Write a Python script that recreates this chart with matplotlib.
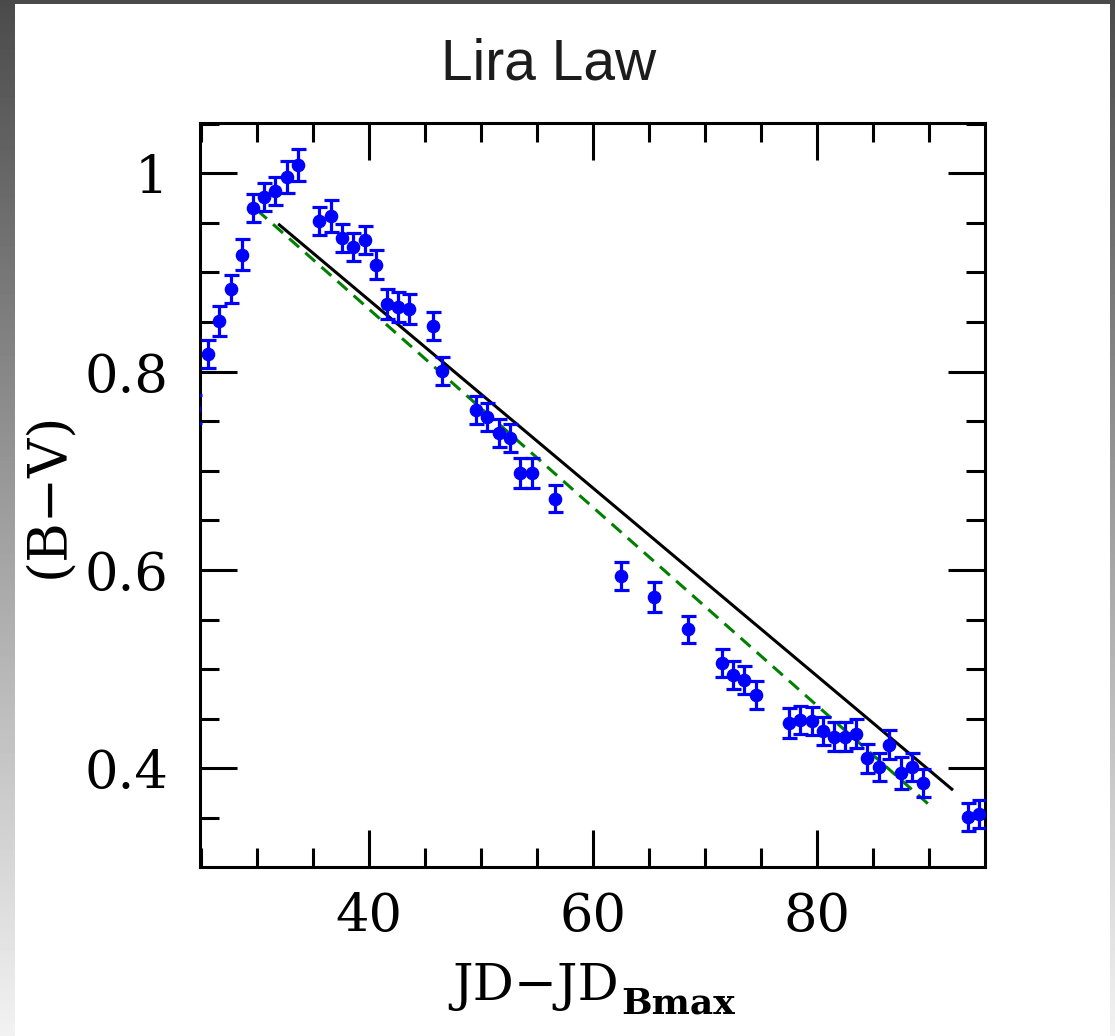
import numpy as np
import matplotlib
matplotlib.use("Agg")
import matplotlib.pyplot as plt
from matplotlib.ticker import MultipleLocator, FuncFormatter

plt.rcParams["font.family"] = "DejaVu Serif"
plt.rcParams["lines.scale_dashes"] = False

# ---------------- Data ----------------
days = [24.38, 25.67, 26.65, 27.66, 28.64, 29.63, 30.63, 31.61, 32.66, 33.64,
        35.51, 36.64, 37.62, 38.60, 39.64, 40.62, 41.58, 42.56, 43.54, 45.68,
        46.54, 49.55, 50.55, 51.57, 52.58, 53.47, 54.57, 56.57, 62.45, 65.40,
        68.48, 71.46, 72.50, 73.45, 74.50, 77.47, 78.45, 79.49, 80.53, 81.48,
        82.46, 83.44, 84.45, 85.50, 86.41, 87.46, 88.44, 89.39, 93.46, 94.44]
bv = [0.762, 0.818, 0.851, 0.883, 0.918, 0.965, 0.976, 0.982, 0.996, 1.008,
      0.952, 0.957, 0.935, 0.926, 0.933, 0.908, 0.868, 0.865, 0.863, 0.846,
      0.801, 0.761, 0.754, 0.738, 0.733, 0.698, 0.698, 0.672, 0.594, 0.573,
      0.540, 0.506, 0.494, 0.489, 0.474, 0.446, 0.449, 0.448, 0.438, 0.432,
      0.432, 0.435, 0.410, 0.401, 0.424, 0.395, 0.401, 0.385, 0.351, 0.354]
bv_err = [0.014, 0.014, 0.015, 0.014, 0.016, 0.014, 0.014, 0.014, 0.016, 0.016,
          0.014, 0.016, 0.014, 0.014, 0.014, 0.015, 0.015, 0.015, 0.015, 0.014,
          0.014, 0.014, 0.014, 0.014, 0.014, 0.015, 0.015, 0.014, 0.014, 0.015,
          0.014, 0.014, 0.014, 0.014, 0.014, 0.015, 0.014, 0.014, 0.014, 0.015,
          0.015, 0.015, 0.015, 0.014, 0.015, 0.016, 0.014, 0.014, 0.014, 0.014]

# Lira relation (solid) and fit (dashed), endpoints
lira_x = [32.0, 92.0]
lira_y = [0.948, 0.379]
fit_x = [30.0, 90.0]
fit_y = [0.963, 0.363]

# ---------------- Figure ----------------
W, H = 1115, 1036
fig = plt.figure(figsize=(W / 100, H / 100), dpi=100)

# grey screenshot border
grad = np.linspace(0, 1, 256).reshape(-1, 1)
for rect in ([0, 0, 15 / W, 1], [1110 / W, 0, 5 / W, 1]):
    bax = fig.add_axes(rect)
    bax.imshow(grad, aspect="auto", cmap="gray", vmin=-0.45, vmax=1.08,
               extent=[0, 1, 0, 1], origin="upper")
    bax.axis("off")
tax = fig.add_axes([0, 1 - 4 / H, 1, 4 / H])
tax.set_facecolor("#4a4a4a")
tax.set_xticks([])
tax.set_yticks([])
for s in tax.spines.values():
    s.set_visible(False)

ax = fig.add_axes([200 / W, 1 - 867 / H, 785 / W, 744 / H])

ax.errorbar(days, bv, yerr=bv_err, fmt="o", color="blue", ecolor="blue",
            markersize=8.8, elinewidth=2.3, capsize=5.4, capthick=2.3, zorder=3)
ax.plot(lira_x, lira_y, color="black", lw=2.2, zorder=2)
ax.plot(fit_x, fit_y, color="green", lw=2.2, dashes=(9.5, 6), zorder=2)

ax.set_xlim(24.92, 94.96)
ax.set_ylim(0.3005, 1.0507)

ax.xaxis.set_major_locator(MultipleLocator(20))
ax.xaxis.set_minor_locator(MultipleLocator(5))
ax.yaxis.set_major_locator(MultipleLocator(0.2))
ax.yaxis.set_minor_locator(MultipleLocator(0.05))
ax.yaxis.set_major_formatter(FuncFormatter(lambda v, p: f"{v:g}"))

ax.tick_params(which="both", direction="in", top=True, right=True, width=2.2)
ax.tick_params(which="major", length=26.5, labelsize=38)
ax.tick_params(which="minor", length=13.5)
ax.tick_params(axis="x", which="major", pad=17)
ax.tick_params(axis="y", which="major", pad=23)
for s in ax.spines.values():
    s.set_linewidth(2.2)

# x label: JD-JD with bold subscript Bmax
fig.text(619 / W, 1 - 1000 / H, "JD\u2212JD", fontsize=37,
         ha="right", va="baseline")
fig.text(621 / W, 1 - 1014 / H, "Bmax", fontsize=26, fontweight="bold",
         ha="left", va="baseline")
fig.text(48 / W, 1 - 495 / H, "(B\u2212V)", rotation=90, fontsize=39,
         ha="center", va="center")
fig.text(549 / W, 1 - 80 / H, "Lira Law", family="Liberation Sans",
         fontsize=41, color="#1c1c1c", ha="center", va="baseline")

fig.savefig("out.png", dpi=100)
